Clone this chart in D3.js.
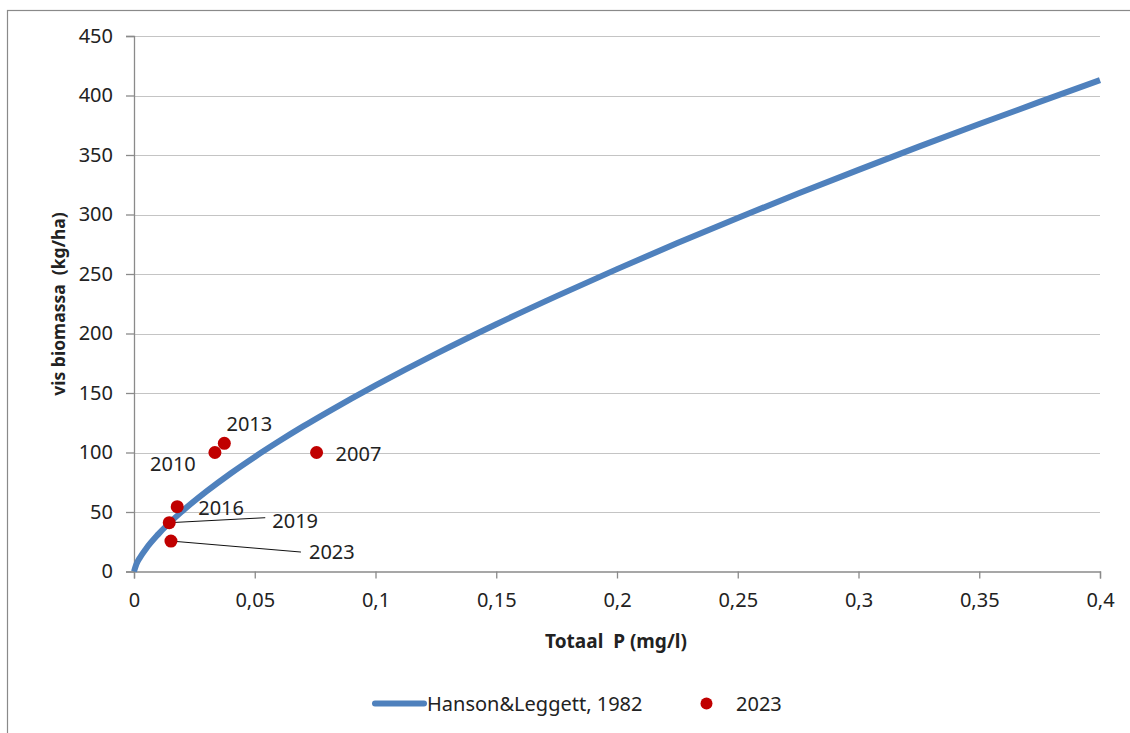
<!DOCTYPE html>
<html><head><meta charset="utf-8">
<script src="https://cdn.jsdelivr.net/npm/d3@7/dist/d3.min.js"></script>
<style>
html,body{margin:0;padding:0;background:#fff;overflow:hidden}
svg{display:block;font-family:"Noto Sans","Open Sans",sans-serif}
</style></head>
<body>
<script>
// Hanson & Leggett (1982) curve
const curveP = [0, 0.001, 0.0025, 0.005, 0.01, 0.02, 0.03, 0.04, 0.05, 0.06, 0.07, 0.08, 0.09, 0.1, 0.125, 0.15, 0.175, 0.2, 0.225, 0.25, 0.275, 0.3, 0.325, 0.35, 0.375, 0.4];
const curveB = [0, 6.2, 11.8, 19.2, 31.2, 50.7, 67.3, 82.4, 96.3, 109.4, 121.9, 133.8, 145.3, 156.4, 182.9, 207.8, 231.4, 254.1, 276.0, 297.1, 317.6, 337.5, 357.0, 376.0, 394.6, 412.9];
// measured years
const years = ["2007", "2010", "2013", "2016", "2019", "2023"];
const pointP = [0.0756, 0.0335, 0.0374, 0.0179, 0.0146, 0.0153];
const pointB = [100, 100, 107.7, 54.5, 41, 25.6];
const xTicks = [0, 0.05, 0.1, 0.15, 0.2, 0.25, 0.3, 0.35, 0.4];
const yTicks = [0, 50, 100, 150, 200, 250, 300, 350, 400, 450];
const seriesNames = ["Hanson&Leggett, 1982", "2023"];
const xTitle = "Totaal  P (mg/l)";
const yTitle = "vis biomassa  (kg/ha)";

// label layout (pixel offsets from the point; leader = draw a connector)
const labelLayout = {
  "2007": {dx: 19, dy: 1, anchor: "start", leader: false},
  "2010": {dx: -42, dy: 11, anchor: "middle", leader: false},
  "2013": {dx: 25, dy: -19, anchor: "middle", leader: false},
  "2016": {dx: 21, dy: 1, anchor: "start", leader: false},
  "2019": {dx: 103, dy: -2, anchor: "start", leader: true, lx: 96, ly: -5},
  "2023": {dx: 138, dy: 11, anchor: "start", leader: true, lx: 130, ly: 11}
};

const W = 1130, H = 733;
const svg = d3.select("body").append("svg").attr("width", W).attr("height", H);

// outer chart frame
svg.append("rect").attr("x", 7.5).attr("y", 10.5).attr("width", W + 20).attr("height", H + 20)
  .attr("fill", "#fff").attr("stroke", "#8a8a8a").attr("stroke-width", 1.2);

const x = d3.scaleLinear().domain([0, 0.4]).range([134, 1100]);
const y = d3.scaleLinear().domain([0, 450]).range([571.5, 36]);

// gridlines
svg.append("g").selectAll("line").data(yTicks.filter(d => d > 0)).join("line")
  .attr("x1", x(0)).attr("x2", x(0.4)).attr("y1", d => Math.round(y(d)) + 0.5).attr("y2", d => Math.round(y(d)) + 0.5)
  .attr("stroke", "#c4c4c4").attr("stroke-width", 1);

const fmt = d => String(d).replace(".", ",");
const tickFont = "20px";

// y axis
const yAxis = svg.append("g").attr("transform", `translate(${x(0)},0)`)
  .call(d3.axisLeft(y).tickValues(yTicks).tickSize(8).tickPadding(13).tickFormat(d => d));
// x axis
const xAxis = svg.append("g").attr("transform", `translate(0,${y(0)})`)
  .call(d3.axisBottom(x).tickValues(xTicks).tickSize(7).tickPadding(14).tickFormat(fmt));
[yAxis, xAxis].forEach(g => {
  g.select(".domain").attr("stroke", "#8a8a8a").attr("stroke-width", 1.3);
  g.selectAll(".tick line").attr("stroke", "#8a8a8a").attr("stroke-width", 1.3);
  g.selectAll("text").attr("fill", "#222").style("font-size", tickFont).style("font-family", "'Noto Sans', sans-serif");
});

// axis titles
svg.append("text").attr("x", 616).attr("y", 648).attr("text-anchor", "middle")
  .style("font-size", "19px").style("font-weight", "bold").attr("fill", "#222")
  .style("white-space", "pre").text(xTitle);
svg.append("text").attr("transform", `translate(65,${304}) rotate(-90)`).attr("text-anchor", "middle")
  .style("font-size", "17.5px").style("font-weight", "bold").attr("fill", "#222")
  .style("white-space", "pre").text(yTitle);

// curve
const curveData = curveP.map((p, i) => [p, curveB[i]]);
svg.append("path").datum(curveData)
  .attr("d", d3.line().x(d => x(d[0])).y(d => y(d[1])).curve(d3.curveMonotoneX))
  .attr("fill", "none").attr("stroke", "#4f81bd").attr("stroke-width", 6).attr("stroke-linecap", "butt");

// points
const pts = years.map((yr, i) => ({yr, p: pointP[i], b: pointB[i]}));
svg.append("g").selectAll("line").data(pts.filter(d => labelLayout[d.yr].leader)).join("line")
  .attr("x1", d => x(d.p)).attr("y1", d => y(d.b))
  .attr("x2", d => x(d.p) + labelLayout[d.yr].lx).attr("y2", d => y(d.b) + labelLayout[d.yr].ly)
  .attr("stroke", "#111").attr("stroke-width", 1);
svg.append("g").selectAll("circle").data(pts).join("circle")
  .attr("cx", d => x(d.p)).attr("cy", d => y(d.b)).attr("r", 6.5).attr("fill", "#c00000");
svg.append("g").selectAll("text").data(pts).join("text")
  .attr("x", d => x(d.p) + labelLayout[d.yr].dx).attr("y", d => y(d.b) + labelLayout[d.yr].dy)
  .attr("dy", "0.35em").attr("text-anchor", d => labelLayout[d.yr].anchor)
  .style("font-size", "20px").attr("fill", "#222").text(d => d.yr);

// legend
const lg = svg.append("g");
lg.append("line").attr("x1", 375).attr("x2", 424).attr("y1", 703.5).attr("y2", 703.5)
  .attr("stroke", "#4f81bd").attr("stroke-width", 6).attr("stroke-linecap", "round");
lg.append("text").attr("x", 427).attr("y", 703.5).attr("dy", "0.35em").style("font-size", "20px").attr("fill", "#222").text(seriesNames[0]);
lg.append("circle").attr("cx", 706.5).attr("cy", 703.5).attr("r", 6).attr("fill", "#c00000");
lg.append("text").attr("x", 736).attr("y", 703.5).attr("dy", "0.35em").style("font-size", "20px").attr("fill", "#222").text(seriesNames[1]);
</script>
</body></html>
